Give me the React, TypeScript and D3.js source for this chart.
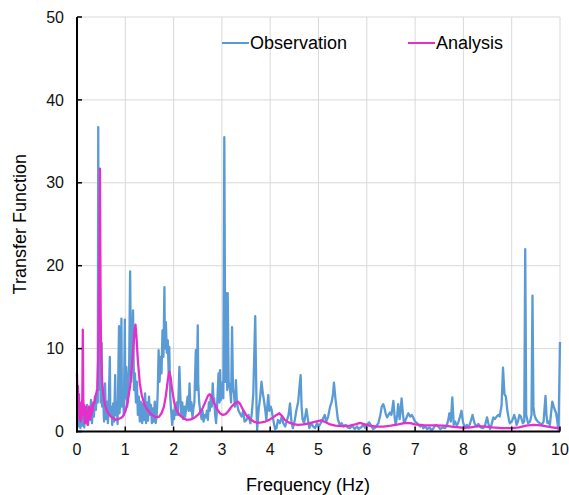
import React from "react";
import * as d3 from "d3";

const xTicks = [0, 1, 2, 3, 4, 5, 6, 7, 8, 9, 10];
const yTicks = [0, 10, 20, 30, 40, 50];
const seriesNames = ["Observation", "Analysis"];
const seriesColors = ["#5B9BD5", "#E42FCB"];

// [frequency Hz, transfer function]
const observation: [number, number][] = [
  [0.0, 1.0], [0.02, 3.8], [0.03, 0.6], [0.05, 2.5], [0.07, 0.4], [0.09, 2.0], [0.11, 0.7], [0.13, 2.8],
  [0.15, 0.5], [0.17, 2.3], [0.19, 1.0], [0.21, 3.2], [0.23, 0.8], [0.25, 2.6], [0.27, 1.4], [0.29, 3.8],
  [0.31, 1.0], [0.33, 3.0], [0.35, 1.8], [0.37, 4.2], [0.39, 2.6], [0.41, 4.6], [0.43, 3.5], [0.44, 36.7],
  [0.45, 7.0], [0.46, 14.2], [0.47, 5.0], [0.48, 12.0], [0.49, 3.5], [0.51, 10.7], [0.52, 3.0], [0.54, 4.5],
  [0.56, 1.2], [0.58, 5.8], [0.6, 1.5], [0.62, 3.6], [0.64, 1.0], [0.66, 4.0], [0.68, 9.0], [0.69, 2.0],
  [0.71, 3.0], [0.73, 0.8], [0.75, 3.4], [0.77, 1.2], [0.79, 6.8], [0.8, 2.0], [0.82, 3.5], [0.84, 0.9],
  [0.87, 12.7], [0.88, 2.2], [0.9, 4.0], [0.92, 13.6], [0.93, 3.0], [0.95, 5.0], [0.97, 2.0], [0.99, 13.5],
  [1.0, 4.0], [1.02, 7.8], [1.04, 3.0], [1.06, 5.5], [1.08, 8.0], [1.1, 19.3], [1.12, 6.0], [1.14, 9.5],
  [1.16, 14.6], [1.18, 5.0], [1.2, 7.0], [1.22, 3.5], [1.24, 6.0], [1.26, 2.0], [1.28, 4.2], [1.3, 1.2],
  [1.32, 3.6], [1.35, 1.0], [1.37, 3.4], [1.39, 1.4], [1.41, 4.6], [1.43, 1.0], [1.45, 3.5], [1.47, 1.3],
  [1.49, 4.2], [1.51, 2.0], [1.53, 3.2], [1.55, 1.0], [1.57, 2.8], [1.59, 1.2], [1.61, 3.6], [1.63, 1.0],
  [1.65, 2.0], [1.67, 4.5], [1.69, 9.8], [1.71, 6.0], [1.73, 9.0], [1.75, 7.0], [1.77, 12.2], [1.79, 9.0],
  [1.81, 17.4], [1.82, 10.0], [1.84, 13.2], [1.86, 9.5], [1.88, 11.0], [1.9, 6.5], [1.91, 10.2], [1.93, 4.2],
  [1.95, 2.5], [1.97, 0.8], [1.99, 2.5], [2.01, 1.5], [2.03, 3.0], [2.05, 2.0], [2.07, 3.5], [2.09, 2.0],
  [2.12, 7.8], [2.14, 4.2], [2.16, 2.0], [2.18, 3.5], [2.2, 1.5], [2.22, 3.0], [2.24, 1.8], [2.26, 2.8],
  [2.29, 4.2], [2.31, 2.5], [2.33, 5.8], [2.35, 2.5], [2.37, 3.5], [2.39, 1.6], [2.41, 2.8], [2.43, 3.5],
  [2.46, 9.8], [2.48, 5.0], [2.5, 12.8], [2.51, 5.8], [2.53, 3.5], [2.55, 2.5], [2.58, 1.5], [2.6, 2.5],
  [2.62, 1.2], [2.65, 2.0], [2.67, 1.7], [2.69, 2.5], [2.71, 1.4], [2.73, 3.5], [2.75, 2.5], [2.77, 4.2],
  [2.79, 3.0], [2.81, 5.8], [2.83, 3.4], [2.84, 4.0], [2.86, 2.0], [2.88, 1.0], [2.9, 3.0], [2.93, 7.0],
  [2.95, 3.5], [2.96, 7.4], [2.98, 3.8], [3.0, 5.0], [3.02, 6.0], [3.03, 4.0], [3.05, 35.5], [3.07, 6.0],
  [3.09, 16.7], [3.11, 5.0], [3.12, 16.7], [3.14, 6.0], [3.17, 5.0], [3.19, 3.5], [3.21, 12.6], [3.23, 5.0],
  [3.25, 4.6], [3.27, 3.0], [3.29, 6.2], [3.31, 3.5], [3.34, 2.6], [3.37, 2.2], [3.41, 1.8], [3.44, 2.5],
  [3.47, 1.2], [3.51, 1.4], [3.55, 2.0], [3.59, 1.0], [3.62, 2.2], [3.65, 4.6], [3.69, 13.9], [3.72, 2.0],
  [3.73, 0.2], [3.76, 2.6], [3.79, 4.0], [3.82, 6.0], [3.85, 4.5], [3.87, 3.8], [3.9, 2.5], [3.92, 1.4],
  [3.94, 3.0], [3.96, 4.4], [3.98, 2.5], [4.01, 3.0], [4.03, 2.6], [4.06, 1.5], [4.1, 0.3], [4.13, 0.4],
  [4.16, 1.4], [4.2, 1.0], [4.24, 1.8], [4.27, 1.0], [4.31, 0.6], [4.34, 1.2], [4.38, 2.0], [4.41, 3.4],
  [4.44, 1.2], [4.47, 0.4], [4.51, 1.4], [4.54, 2.5], [4.58, 3.6], [4.6, 5.0], [4.63, 6.8], [4.65, 3.0],
  [4.67, 1.5], [4.7, 1.0], [4.73, 2.0], [4.75, 2.7], [4.78, 1.5], [4.81, 0.4], [4.85, 1.0], [4.89, 0.6],
  [4.93, 0.4], [4.97, 1.0], [5.0, 0.6], [5.03, 0.8], [5.06, 1.2], [5.09, 1.5], [5.13, 2.0], [5.16, 1.2],
  [5.2, 1.8], [5.24, 3.0], [5.27, 3.5], [5.3, 4.5], [5.32, 5.9], [5.35, 4.0], [5.37, 3.0], [5.4, 1.5],
  [5.44, 0.8], [5.48, 1.0], [5.52, 0.6], [5.56, 0.8], [5.6, 0.5], [5.65, 0.4], [5.7, 0.7], [5.75, 0.3],
  [5.8, 0.6], [5.83, 0.3], [5.88, 0.5], [5.93, 0.8], [5.97, 0.4], [6.0, 0.8], [6.05, 1.1], [6.1, 0.6],
  [6.13, 0.3], [6.18, 0.5], [6.24, 1.0], [6.28, 2.0], [6.31, 3.0], [6.34, 3.3], [6.36, 3.0], [6.39, 2.2],
  [6.42, 1.7], [6.45, 2.0], [6.48, 2.3], [6.51, 2.0], [6.53, 2.8], [6.55, 3.7], [6.58, 1.5], [6.6, 0.8],
  [6.63, 2.0], [6.65, 3.3], [6.68, 1.5], [6.7, 2.5], [6.72, 4.0], [6.75, 2.0], [6.77, 1.0], [6.81, 1.5],
  [6.86, 2.2], [6.9, 1.8], [6.93, 2.0], [6.96, 1.7], [7.0, 1.2], [7.04, 1.0], [7.07, 0.8], [7.11, 0.6],
  [7.14, 0.8], [7.17, 0.4], [7.21, 0.6], [7.25, 0.3], [7.3, 0.5], [7.34, 0.1], [7.38, 0.4], [7.43, 0.8],
  [7.48, 0.6], [7.52, 0.3], [7.57, 0.5], [7.62, 0.4], [7.66, 0.8], [7.69, 1.5], [7.71, 2.2], [7.74, 1.2],
  [7.77, 4.1], [7.8, 0.8], [7.83, 1.2], [7.86, 0.7], [7.89, 1.0], [7.93, 1.8], [7.96, 2.5], [7.99, 1.2],
  [8.03, 0.4], [8.07, 0.8], [8.11, 0.5], [8.15, 1.2], [8.19, 2.0], [8.23, 1.0], [8.27, 0.6], [8.31, 0.9],
  [8.36, 0.5], [8.41, 0.4], [8.45, 0.8], [8.49, 1.7], [8.52, 0.9], [8.55, 0.3], [8.58, 0.8], [8.62, 1.7],
  [8.65, 1.5], [8.69, 1.8], [8.72, 2.0], [8.75, 1.8], [8.79, 3.1], [8.82, 7.7], [8.85, 4.5], [8.88, 4.2],
  [8.91, 2.5], [8.94, 1.5], [8.96, 1.0], [9.0, 1.2], [9.03, 1.6], [9.05, 2.0], [9.08, 1.5], [9.1, 0.8],
  [9.13, 1.2], [9.16, 2.0], [9.19, 1.8], [9.23, 1.0], [9.26, 1.2], [9.28, 22.0], [9.3, 2.0], [9.34, 1.0],
  [9.38, 1.2], [9.41, 2.0], [9.43, 16.4], [9.45, 3.0], [9.47, 2.0], [9.5, 1.5], [9.54, 1.2], [9.58, 1.0],
  [9.62, 0.8], [9.66, 1.2], [9.7, 4.3], [9.72, 2.0], [9.74, 1.0], [9.77, 1.2], [9.79, 0.8], [9.82, 2.5],
  [9.84, 3.6], [9.87, 3.0], [9.9, 2.5], [9.92, 2.2], [9.95, 1.0], [9.97, 0.2], [10.0, 10.8],
];

const analysis: [number, number][] = [
  [0.0, 7.0], [0.01, 4.0], [0.02, 5.5], [0.03, 2.5], [0.04, 4.5], [0.05, 1.5], [0.06, 3.5], [0.07, 1.2],
  [0.08, 2.8], [0.09, 1.5], [0.1, 3.0], [0.11, 4.0], [0.12, 12.3], [0.13, 4.0], [0.14, 2.0], [0.15, 3.2],
  [0.16, 1.0], [0.17, 2.6], [0.18, 1.4], [0.19, 3.0], [0.2, 1.2], [0.21, 2.5], [0.22, 0.8], [0.23, 2.2],
  [0.24, 1.5], [0.25, 3.0], [0.26, 1.8], [0.27, 2.6], [0.28, 1.5], [0.29, 2.8], [0.3, 2.0], [0.31, 3.2],
  [0.32, 2.4], [0.34, 3.5], [0.36, 3.4], [0.38, 4.2], [0.4, 4.6], [0.42, 5.2], [0.44, 9.0], [0.46, 20.0],
  [0.475, 31.7], [0.49, 14.0], [0.5, 9.5], [0.52, 6.0], [0.55, 4.2], [0.58, 3.2], [0.62, 2.5], [0.66, 2.1],
  [0.7, 1.8], [0.75, 1.6], [0.8, 1.4], [0.85, 1.5], [0.9, 1.6], [0.95, 1.8], [1.0, 2.4], [1.05, 3.6],
  [1.1, 5.5], [1.15, 8.8], [1.19, 12.0], [1.21, 12.9], [1.23, 11.5], [1.26, 8.6], [1.3, 5.8], [1.34, 4.4],
  [1.4, 3.2], [1.46, 2.6], [1.52, 2.2], [1.58, 1.9], [1.64, 1.7], [1.7, 1.8], [1.75, 2.2], [1.8, 3.0],
  [1.84, 4.3], [1.88, 6.2], [1.91, 7.2], [1.94, 6.5], [1.97, 5.0], [2.01, 3.6], [2.06, 2.6], [2.12, 2.0],
  [2.2, 1.6], [2.28, 1.4], [2.36, 1.45], [2.44, 1.7], [2.52, 2.1], [2.6, 2.8], [2.66, 3.6], [2.71, 4.3],
  [2.75, 4.5], [2.79, 4.2], [2.84, 3.4], [2.9, 2.7], [2.96, 2.2], [3.02, 2.0], [3.08, 2.1], [3.14, 2.5],
  [3.2, 3.0], [3.27, 3.4], [3.33, 3.6], [3.38, 3.3], [3.44, 2.6], [3.5, 2.0], [3.58, 1.5], [3.66, 1.2],
  [3.74, 1.05], [3.82, 1.1], [3.9, 1.2], [3.98, 1.4], [4.06, 1.7], [4.13, 2.0], [4.19, 2.2], [4.24, 1.9],
  [4.3, 1.4], [4.38, 1.1], [4.48, 0.9], [4.58, 0.8], [4.7, 0.85], [4.82, 1.0], [4.94, 1.2], [5.05, 1.35],
  [5.12, 1.2], [5.22, 0.9], [5.35, 0.7], [5.5, 0.65], [5.65, 0.7], [5.78, 0.9], [5.86, 1.05], [5.94, 0.9],
  [6.05, 0.7], [6.2, 0.6], [6.35, 0.6], [6.5, 0.7], [6.65, 0.85], [6.8, 1.05], [6.9, 1.0], [7.0, 0.85],
  [7.2, 0.75], [7.4, 0.75], [7.6, 0.7], [7.8, 0.55], [8.0, 0.45], [8.15, 0.5], [8.3, 0.65], [8.45, 0.6],
  [8.6, 0.5], [8.8, 0.4], [9.0, 0.4], [9.15, 0.5], [9.3, 0.7], [9.45, 0.8], [9.6, 0.75], [9.75, 0.6],
  [9.9, 0.45], [10.0, 0.4],
];

const W = 569;
const H = 495;
const M = { left: 77, right: 9, top: 17, bottom: 63.5 };
const FONT = "'Liberation Sans', Arial, sans-serif";

export default function App() {
  const x = d3.scaleLinear().domain([0, 10]).range([M.left, W - M.right]);
  const y = d3.scaleLinear().domain([0, 50]).range([H - M.bottom, M.top]);
  const line = d3
    .line<[number, number]>()
    .x((d) => x(d[0]))
    .y((d) => y(d[1]));

  const legendX = [222, 408];
  const legendY = 43;

  return (
    <svg
      width={W}
      height={H}
      style={{ position: "fixed", left: 0, top: 0, background: "#fff", fontFamily: FONT }}
    >
      <rect x={0} y={0} width={W} height={H} fill="#fff" />
      {/* grid */}
      {yTicks.filter((t) => t > 0).map((t) => (
        <line key={"gy" + t} x1={x(0)} x2={x(10)} y1={y(t)} y2={y(t)} stroke="#d9d9d9" strokeWidth={1} />
      ))}
      {xTicks.filter((t) => t > 0).map((t) => (
        <line key={"gx" + t} x1={x(t)} x2={x(t)} y1={y(0)} y2={y(50)} stroke="#d9d9d9" strokeWidth={1} />
      ))}

      {/* series */}
      <path d={line(observation) || ""} fill="none" stroke={seriesColors[0]} strokeWidth={2.3} strokeLinejoin="round" />
      <path d={line(analysis) || ""} fill="none" stroke={seriesColors[1]} strokeWidth={2.3} strokeLinejoin="round" />

      {/* axes */}
      <line x1={x(0)} x2={x(0)} y1={y(0) + 1} y2={y(50)} stroke="#000" strokeWidth={2} />
      <line x1={x(0) - 1} x2={x(10)} y1={y(0)} y2={y(0)} stroke="#000" strokeWidth={2} />
      {yTicks.map((t) => (
        <g key={"ty" + t}>
          <line x1={x(0)} x2={x(0) + 5} y1={y(t)} y2={y(t)} stroke="#000" strokeWidth={1.5} />
          <text x={64} y={y(t)} dy="0.35em" textAnchor="end" fontSize={16} fill="#111">
            {t}
          </text>
        </g>
      ))}
      {xTicks.map((t) => (
        <g key={"tx" + t}>
          <line x1={x(t)} x2={x(t)} y1={y(0)} y2={y(0) - 5} stroke="#000" strokeWidth={1.5} />
          <text x={x(t)} y={455} textAnchor="middle" fontSize={16} fill="#111">
            {t}
          </text>
        </g>
      ))}

      {/* axis titles */}
      <text x={308} y={491} textAnchor="middle" fontSize={18} fill="#000">
        Frequency (Hz)
      </text>
      <text
        transform={`translate(26, ${(y(0) + y(50)) / 2}) rotate(-90)`}
        textAnchor="middle"
        fontSize={18}
        fill="#000"
      >
        Transfer Function
      </text>

      {/* legend */}
      {seriesNames.map((n, i) => (
        <g key={n}>
          <line x1={legendX[i]} x2={legendX[i] + 27} y1={legendY} y2={legendY} stroke={seriesColors[i]} strokeWidth={2} />
          <text x={legendX[i] + 28} y={legendY} dy="0.35em" fontSize={18} fill="#000">
            {n}
          </text>
        </g>
      ))}
    </svg>
  );
}
